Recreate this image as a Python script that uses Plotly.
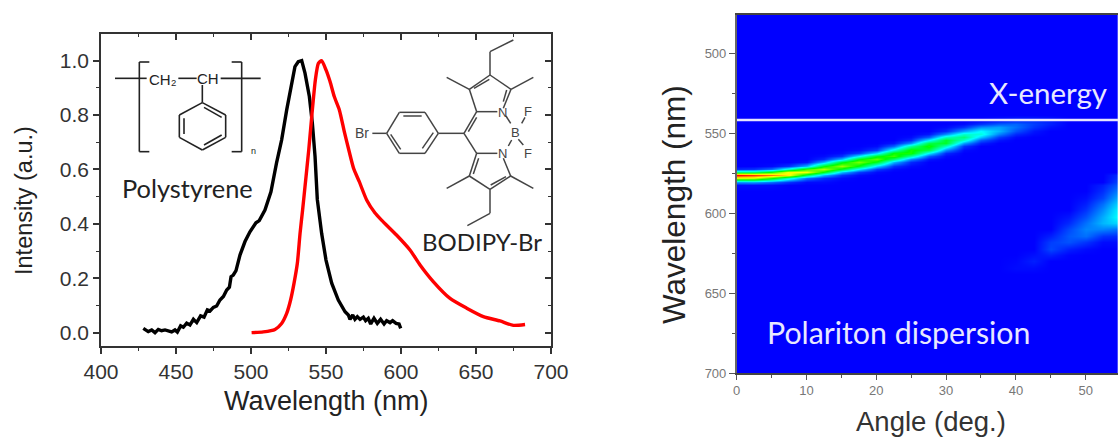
import plotly.graph_objects as go

W, H = 1118, 438

# --- Left panel: emission spectra
ps_wl = [428.2,430.4,431.5,433.8,436,438.2,440.4,442.7,444.9,447.1,449.3,450.9,453.1,454.9,457.1,459.3,461.6,463.8,466.4,468.7,470.9,472.7,474.9,477.1,479.3,481.6,483.8,485.6,486.7,488.2,490,492.7,496,499.3,503.3,505.5,509.3,513.3,517,520.4,523.8,526.7,529.3,531.5,533.8,536,538.9,540.9,542.7,544.2,547.1,550,553.8,558.2,562.7,564.9,566,567.8,569.3,570.9,572.7,574.9,576.4,578.2,579.8,582,584.2,586.4,588.7,590.4,592.7,594.4,596.7,598.7,599.8]
ps_int = [.016,.010,.004,.010,.000,.012,.007,.010,.006,.003,.010,.002,.025,.020,.035,.028,.049,.037,.062,.057,.084,.080,.093,.098,.120,.133,.157,.167,.206,.212,.228,.286,.335,.371,.404,.412,.451,.518,.623,.708,.819,.911,.978,.996,1.0,.954,.868,.77,.647,.49,.365,.267,.182,.12,.077,.065,.049,.065,.049,.059,.049,.057,.044,.053,.032,.053,.034,.049,.032,.044,.037,.044,.034,.032,.016]
bd_wl = [500.4,508.2,516,520.4,523.8,526.4,528.7,530.9,532.7,534.4,536,538.5,540.7,542.9,544.9,547.1,550,552.7,555.5,558.9,562.2,565.5,568.4,572.2,577.1,582.7,587,597,606,612.7,621.5,632.7,643.8,654.9,666,674.9,682.7]
bd_int = [0,.003,.012,.034,.071,.12,.182,.255,.365,.451,.537,.672,.807,.929,.99,1.0,.966,.923,.868,.819,.739,.665,.604,.555,.488,.44,.414,.359,.304,.249,.188,.126,.09,.059,.043,.027,.03]

left_xticks = [400,450,500,550,600,650,700]
left_yticks = [0,.2,.4,.6,.8,1.0]

# --- Right panel: dispersion map, intensity read per angle column
map_angles = [0,2.5,5,7.5,10,12.5,15,17.5,20,22.5,25,27.5,30,32.5,35,37.5,40,42.5,45,47.5,50,52.5,55]
map_wl = [470,536]+list(range(538,584,2))+list(range(586,642,4))+[642,705]
upper_start = [572,572,570,570,568,564,562,560,558,556,552,550,546,544,542,540,540,540,540]
upper_vals = [
 [.04,.38,1.0,.71,.15,.01],
 [.05,.40,.95,.70,.16,.01],
 [.01,.11,.52,.88,.52,.11,.01],
 [.05,.30,.76,.76,.30,.05],
 [.02,.18,.55,.74,.42,.11,.01],
 [.01,.04,.18,.48,.68,.48,.18,.04,.01],
 [.01,.05,.19,.47,.65,.47,.19,.05,.01],
 [.01,.06,.24,.48,.62,.48,.24,.06,.01],
 [.01,.06,.22,.47,.60,.47,.22,.06,.01],
 [.02,.10,.29,.51,.56,.39,.18,.05,.01],
 [.01,.04,.14,.34,.52,.52,.34,.14,.04,.01],
 [.02,.09,.24,.43,.52,.43,.24,.09,.02],
 [.01,.04,.14,.31,.46,.46,.31,.14,.04,.01],
 [.01,.05,.16,.30,.38,.30,.16,.05,.01],
 [.01,.05,.14,.25,.28,.20,.09,.03],
 [.01,.03,.09,.16,.18,.13,.06,.02],
 [.02,.05,.10,.11,.08,.04,.01],
 [.02,.05,.06,.05,.02,.01],
 [.015,.03,.03,.015],
]
lower_angles = [40,42.5,45,47.5,50,52.5,55]
lower_start = [630,626,614,602,590,582,576]
lower_vals = [
 [.005,.01],
 [.015,.03,.01],
 [.03,.06,.07,.03],
 [.02,.04,.07,.087,.08,.03,.004],
 [.013,.03,.05,.08,.11,.13,.11,.05,.01],
 [.03,.045,.07,.11,.14,.17,.18,.13,.05,.01],
 [.05,.06,.08,.10,.14,.19,.23,.26,.27,.22,.11,.04,.01],
]
exciton_wl = 541.4
right_xticks = [0,10,20,30,40,50]
right_yticks = [500,550,600,650,700]

z = [[0.0]*len(map_angles) for _ in map_wl]
for c,(s,vals) in enumerate(zip(upper_start, upper_vals)):
    i = map_wl.index(s)
    for k,v in enumerate(vals):
        z[i+k][c] = v
for a,s,vals in zip(lower_angles, lower_start, lower_vals):
    c = map_angles.index(a); i = map_wl.index(s)
    for k,v in enumerate(vals):
        z[i+k][c] = v

fig = go.Figure()
fig.add_trace(go.Scatter(x=ps_wl, y=ps_int, mode="lines", line=dict(color="#000000", width=3.4), xaxis="x", yaxis="y", showlegend=False))
fig.add_trace(go.Scatter(x=bd_wl, y=bd_int, mode="lines", line=dict(color="#ff0000", width=3.4, shape="spline", smoothing=0.6), xaxis="x", yaxis="y", showlegend=False))
fig.add_trace(go.Scatter(x=[None], y=[None], xaxis="x3", yaxis="y3", showlegend=False))
fig.add_trace(go.Heatmap(x=map_angles, y=map_wl, z=z, zmin=0, zmax=1, zsmooth="best", showscale=False, xaxis="x2", yaxis="y2",
    colorscale=[[0,"#0000ff"],[.25,"#00ffff"],[.5,"#00ff00"],[.75,"#ffff00"],[1,"#ff0000"]]))
fig.add_trace(go.Scatter(x=[0,55], y=[exciton_wl,exciton_wl], mode="lines", line=dict(color="#e6e4ff", width=2.6), xaxis="x2", yaxis="y2", showlegend=False))

LC = "#333333"
TF = dict(family="Liberation Sans, Arial", size=21, color="#333333")
xd = [101/W, 551/W]; yd = [1-346/H, 1-34/H]
xr = [400,700]; yr = [-0.049,1.098]
minor = lambda d: dict(ticks="outside", ticklen=3.5, tickwidth=1.3, tickcolor=LC, dtick=d)
minor_in = lambda d: dict(ticks="inside", ticklen=3.5, tickwidth=1.3, tickcolor=LC, dtick=d)
fig.update_layout(
    template="none",
    width=W, height=H, margin=dict(l=0,r=0,t=0,b=0,pad=0), paper_bgcolor="white", plot_bgcolor="white", showlegend=False,
    xaxis=dict(domain=xd, range=xr, anchor="y", automargin=False, tickvals=left_xticks, ticks="outside", ticklen=6, tickwidth=1.5, tickcolor=LC,
               linecolor=LC, linewidth=1.5, showgrid=False, zeroline=False, tickfont=TF, minor=dict(minor(25), tick0=400)),
    yaxis=dict(domain=yd, range=yr, anchor="x", automargin=False, tickvals=left_yticks, tickformat=".1f", ticks="outside", ticklen=6, tickwidth=1.5, tickcolor=LC,
               linecolor=LC, linewidth=1.5, showgrid=False, zeroline=False, tickfont=TF, minor=dict(minor(.1), tick0=0)),
    xaxis3=dict(domain=xd, range=xr, anchor="y3", automargin=False, side="top", overlaying="x", tickvals=left_xticks, showticklabels=False, ticks="inside", ticklen=6, tickwidth=1.5, tickcolor=LC,
               linecolor=LC, linewidth=1.5, showgrid=False, zeroline=False, minor=dict(minor_in(25), tick0=400)),
    yaxis3=dict(domain=yd, range=yr, anchor="x3", automargin=False, side="right", overlaying="y", tickvals=left_yticks, showticklabels=False, ticks="inside", ticklen=6, tickwidth=1.5, tickcolor=LC,
               linecolor=LC, linewidth=1.5, showgrid=False, zeroline=False, minor=dict(minor_in(.1), tick0=0)),
    xaxis2=dict(domain=[736.7/W,1], range=[0,54.63], anchor="y2", automargin=False, tickvals=right_xticks, ticks="outside", ticklen=5, tickwidth=1.3, tickcolor="#555555",
               linecolor="#444444", linewidth=1.5, showgrid=False, zeroline=False, mirror=True, tickfont=dict(family="Liberation Sans, Arial", size=13, color="#777777"),
               minor=dict(ticks="outside", ticklen=3, tickwidth=1, tickcolor="#555555", dtick=5, tick0=0)),
    yaxis2=dict(domain=[1-373/H,1-15/H], range=[700,475.6], anchor="x2", automargin=False, tickvals=right_yticks, ticks="outside", ticklen=6, tickwidth=1.3, tickcolor="#555555",
               linecolor="#666666", linewidth=1.5, showgrid=False, zeroline=False, tickfont=dict(family="Liberation Sans, Arial", size=13, color="#777777"),
               minor=dict(ticks="outside", ticklen=3, tickwidth=1, tickcolor="#555555", dtick=25, tick0=475)),
)

# --- Text and chemical-structure decoration in page pixels
def text(s, x, y, size, color="#222222", family="Liberation Sans, Arial", angle=0):
    fig.add_annotation(text=s, xref="paper", yref="paper", x=x/W, y=1-y/H, xanchor="center", yanchor="middle", showarrow=False,
                       textangle=angle, font=dict(family=family, size=size, color=color))

shapes = []
def poly(points, ox, oy, color, width):
    for (x0,y0),(x1,y1) in zip(points[:-1], points[1:]):
        shapes.append(dict(type="line", xref="paper", yref="paper", layer="above",
            x0=(ox+x0/3)/W, y0=1-(oy+y0/3)/H, x1=(ox+x1/3)/W, y1=1-(oy+y1/3)/H, line=dict(color=color, width=width)))

PS = [
 [(345,175),(440,175)], [(448,126),(418,126),(418,395),(448,395)], [(695,126),(725,126),(725,395),(695,395)],
 [(535,175),(590,175)], [(662,175),(782,175)], [(607,195),(607,248)],
 [(607,248),(677,285),(677,352),(607,390),(538,352),(538,285),(607,248)],
 [(552,295),(552,342)], [(612,375),(665,345)], [(612,262),(665,292)],
]
for p in PS:
    poly(p, 0, 20, "#222222", 1.6)
BD = [
 [(450,105),(450,35),(520,0)], [(388,148),(450,105),(513,148),(490,205)], [(402,145),(448,118)], [(500,150),(490,185)],
 [(472,215),(410,215),(388,148),(320,112)], [(513,148),(580,112)],
 [(410,215),(372,280),(410,340),(472,340)], [(410,232),(385,275)],
 [(490,355),(512,408),(450,448),(388,408),(410,340)], [(498,410),(452,435)], [(400,402),(416,355)],
 [(388,408),(320,445)], [(512,408),(580,445)], [(450,448),(450,520),(382,557)],
 [(498,228),(512,250)], [(505,318),(515,300)], [(545,250),(555,232)], [(535,298),(550,315)],
 [(372,280),(295,280),(255,340),(178,340),(140,280),(178,217),(255,217),(295,280)],
 [(190,228),(245,228)], [(152,283),(182,328)], [(247,325),(280,278)], [(97,280),(140,280)],
]
for p in BD:
    poly(p, 340, 40, "#444444", 1.5)
fig.update_layout(shapes=shapes)

text("CH₂", 163, 79, 15)
text("CH", 208, 78, 15)
text("n", 253, 151, 9)
text("Polystyrene", 187.5, 188, 25.4, family="Lato")
text("BODIPY-Br", 482, 241, 24, family="Lato")
text("Br", 362, 133, 14, color="#444444")
text("N", 502, 112, 13, color="#444444")
text("N", 502, 153, 13, color="#444444")
text("B", 515, 133, 13, color="#444444")
text("F", 528, 111, 13, color="#444444")
text("F", 528, 153, 13, color="#444444")
text("Wavelength (nm)", 326, 401, 27)
text("Intensity (a.u.)", 24, 201, 23.5, angle=-90)
text("X-energy", 1048, 93, 29.5, color="#e8e8ff", family="Lato")
text("Polariton dispersion", 898, 332, 30.3, color="#e8e8ff", family="Lato")
text("Wavelength (nm)", 674, 205, 31.5, angle=-90)
text("Angle (deg.)", 931, 421.5, 27.5, color="#333333")

fig.write_html("out.html", config=dict(displayModeBar=False), post_script="document.body.style.margin='0';document.documentElement.style.overflow='hidden';")
